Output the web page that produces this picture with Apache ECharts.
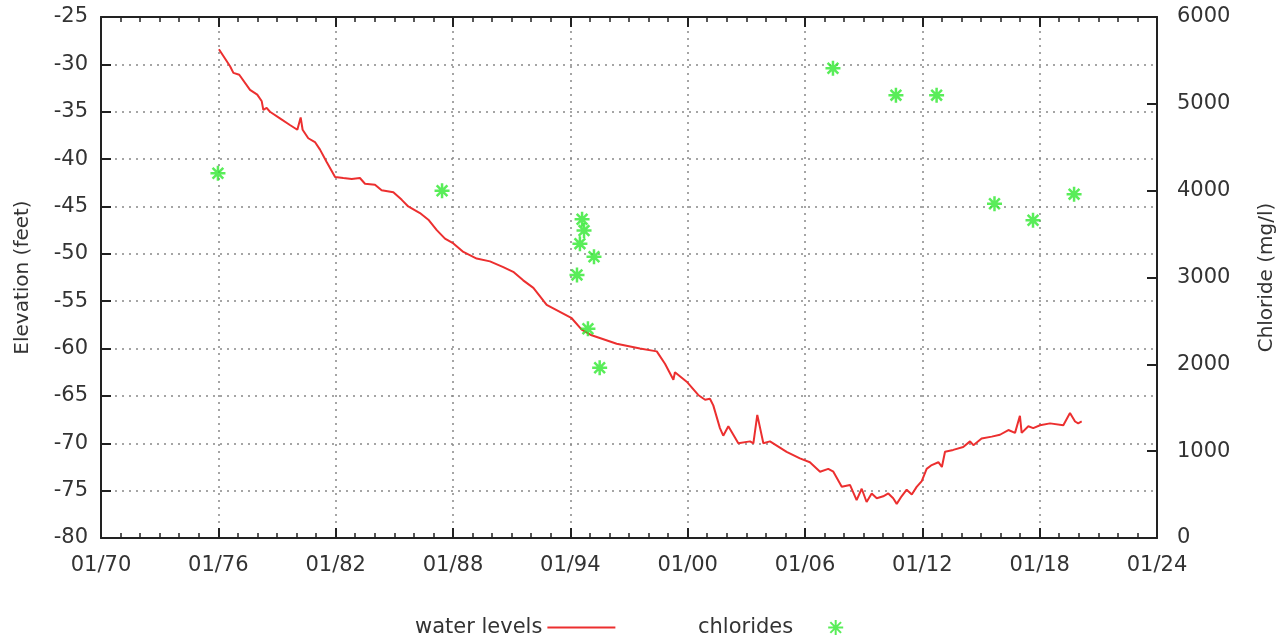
<!DOCTYPE html>
<html>
<head>
<meta charset="utf-8">
<script src="https://cdn.jsdelivr.net/npm/echarts@6/dist/echarts.min.js"></script>
<style>
  html, body { margin: 0; padding: 0; background: #fff; }
  #chart { width: 1286px; height: 640px; }
</style>
</head>
<body>
<div id="chart"></div>
<script>
// Water level record (decimal year, elevation in feet)
const levelYears = [
  1976.03, 1976.60, 1976.77, 1977.07, 1977.62, 1977.99, 1978.22, 1978.30, 1978.47, 1978.64,
  1979.15, 1979.66, 1980.04, 1980.21, 1980.31, 1980.60, 1980.94, 1981.20, 1981.54, 1981.97,
  1982.39, 1982.82, 1983.24, 1983.50, 1984.01, 1984.35, 1984.95, 1985.38, 1985.71, 1986.31,
  1986.74, 1987.17, 1987.59, 1988.02, 1988.53, 1989.21, 1989.89, 1990.57, 1991.08, 1991.59,
  1992.11, 1992.79, 1994.07, 1994.58, 1995.09, 1996.37, 1997.56, 1998.42, 1998.84, 1999.27,
  1999.35, 1999.95, 2000.54, 2000.89, 2001.14, 2001.31, 2001.65, 2001.82, 2002.08, 2002.59,
  2003.19, 2003.36, 2003.56, 2003.87, 2004.21, 2005.06, 2005.74, 2006.25, 2006.77, 2007.19,
  2007.45, 2007.88, 2008.30, 2008.64, 2008.90, 2009.15, 2009.41, 2009.67, 2010.00, 2010.26,
  2010.51, 2010.69, 2010.94, 2011.20, 2011.46, 2011.71, 2011.97, 2012.22, 2012.48, 2012.82,
  2013.00, 2013.16, 2013.58, 2014.09, 2014.44, 2014.61, 2015.03, 2015.55, 2015.97, 2016.40,
  2016.74, 2016.99, 2017.08, 2017.42, 2017.67, 2018.02, 2018.53, 2019.21, 2019.55, 2019.81,
  2019.97, 2020.15
];
const levelFeet = [
  -28.4, -30.2, -30.9, -31.1, -32.7, -33.2, -33.9, -34.8, -34.6, -35.0,
  -35.7, -36.4, -36.9, -35.6, -36.9, -37.8, -38.2, -39.0, -40.3, -41.9,
  -42.0, -42.1, -42.0, -42.6, -42.7, -43.3, -43.5, -44.3, -45.0, -45.7,
  -46.4, -47.5, -48.4, -48.9, -49.8, -50.5, -50.8, -51.4, -51.9, -52.8,
  -53.6, -55.4, -56.8, -58.0, -58.6, -59.5, -60.0, -60.3, -61.6, -63.3,
  -62.5, -63.5, -64.9, -65.4, -65.3, -66.0, -68.4, -69.2, -68.2, -70.0,
  -69.8, -70.0, -67.0, -70.0, -69.8, -70.9, -71.6, -72.0, -73.0, -72.7,
  -73.0, -74.6, -74.4, -76.0, -74.8, -76.2, -75.3, -75.8, -75.6, -75.3,
  -75.8, -76.4, -75.6, -74.9, -75.4, -74.6, -74.0, -72.7, -72.3, -72.0,
  -72.5, -70.9, -70.7, -70.4, -69.8, -70.2, -69.5, -69.3, -69.1, -68.6,
  -68.9, -67.1, -68.9, -68.2, -68.4, -68.1, -67.9, -68.1, -66.8, -67.7,
  -67.9, -67.7
];

// Chloride samples (decimal year, mg/l)
const chlorideYears = [
  1975.98, 1987.44, 1994.34, 1994.49, 1994.60, 1994.70, 1995.21, 1994.90, 1995.50,
  2007.43, 2010.65, 2012.73, 2015.69, 2017.66, 2019.76
];
const chlorideMgl = [
  4200, 4000, 3030, 3390, 3670, 3540, 3240, 2410, 1960,
  5410, 5100, 5100, 3850, 3660, 3960
];

// Axis ranges and tick spacing
const yearRange = [1970, 2024];
const yearStep = 6;
const elevRange = [-80, -25];
const elevStep = 5;
const chlorideRange = [0, 6000];
const chlorideStep = 1000;

const toPairs = (xs, ys) => xs.map((x, i) => [x, ys[i]]);

const FONT = 'DejaVu Sans';
const TEXT = '#333';
const FRAME = '#222';
const STAR = 'path://M0,-7L0,7M-7,0L7,0M-5,-5L5,5M-5,5L5,-5';

const yearLabel = v => '01/' + String(Math.round(v)).slice(2);

const chart = echarts.init(document.getElementById('chart'), null, { renderer: 'canvas' });

const xCommon = {
  type: 'value',
  min: yearRange[0],
  max: yearRange[1],
  interval: yearStep,
  axisLine: { show: true, onZero: false, lineStyle: { color: FRAME, width: 2 } },
  axisTick: { show: true, inside: true, length: 10, lineStyle: { color: FRAME, width: 2 } },
  minorTick: { show: true, splitNumber: 6, length: 5, lineStyle: { color: FRAME, width: 1.5 } }
};

chart.setOption({
  animation: false,
  backgroundColor: '#fff',
  grid: { left: 101, right: 129, top: 17, bottom: 102, containLabel: false, outerBoundsMode: 'none' },
  legend: [
    {
      data: [{ name: 'water levels', icon: 'rect' }],
      left: 410,
      top: 612,
      align: 'right',
      itemWidth: 68,
      itemHeight: 2,
      textStyle: { fontFamily: FONT, fontSize: 21, color: TEXT }
    },
    {
      data: ['chlorides'],
      left: 693,
      top: 612,
      align: 'right',
      itemWidth: 15,
      itemHeight: 15,
      textStyle: { fontFamily: FONT, fontSize: 21, color: TEXT, padding: [0, 30, 0, 0] }
    }
  ],
  xAxis: [
    Object.assign({}, xCommon, {
      position: 'bottom',
      axisLabel: { formatter: yearLabel, fontFamily: FONT, fontSize: 21, color: TEXT, margin: 17 },
      splitLine: { show: true, lineStyle: { color: '#888', type: [2, 5], width: 1.5 } }
    }),
    Object.assign({}, xCommon, {
      position: 'top',
      axisLabel: { show: false },
      splitLine: { show: false }
    })
  ],
  yAxis: [
    {
      type: 'value',
      position: 'left',
      min: elevRange[0],
      max: elevRange[1],
      interval: elevStep,
      name: 'Elevation (feet)',
      nameLocation: 'middle',
      nameRotate: 90,
      nameGap: 68,
      nameTextStyle: { fontFamily: FONT, fontSize: 20, color: TEXT },
      axisLine: { show: true, onZero: false, lineStyle: { color: FRAME, width: 2 } },
      axisTick: { show: true, inside: true, length: 10, lineStyle: { color: FRAME, width: 2 } },
      axisLabel: { fontFamily: FONT, fontSize: 21, color: TEXT, margin: 13 },
      splitLine: { show: true, lineStyle: { color: '#888', type: [2, 5], width: 1.5 } }
    },
    {
      type: 'value',
      position: 'right',
      min: chlorideRange[0],
      max: chlorideRange[1],
      interval: chlorideStep,
      name: 'Chloride (mg/l)',
      nameLocation: 'middle',
      nameRotate: 90,
      nameGap: 100,
      nameTextStyle: { fontFamily: FONT, fontSize: 20, color: TEXT },
      axisLine: { show: true, onZero: false, lineStyle: { color: FRAME, width: 2 } },
      axisTick: { show: true, inside: true, length: 10, lineStyle: { color: FRAME, width: 2 } },
      axisLabel: { formatter: v => String(v), fontFamily: FONT, fontSize: 21, color: TEXT, margin: 20 },
      splitLine: { show: false }
    }
  ],
  series: [
    {
      name: 'water levels',
      type: 'line',
      xAxisIndex: 0,
      yAxisIndex: 0,
      data: toPairs(levelYears, levelFeet),
      showSymbol: false,
      symbol: 'none',
      lineStyle: { color: '#ec2f2f', width: 2 },
      itemStyle: { color: '#ec2f2f' },
      z: 3
    },
    {
      name: 'chlorides',
      type: 'scatter',
      xAxisIndex: 0,
      yAxisIndex: 1,
      data: toPairs(chlorideYears, chlorideMgl),
      symbol: STAR,
      symbolSize: 15,
      itemStyle: { color: 'rgba(0,0,0,0)', borderColor: '#2fe82f', borderWidth: 2.5 },
      z: 4
    }
  ]
});
</script>
</body>
</html>
